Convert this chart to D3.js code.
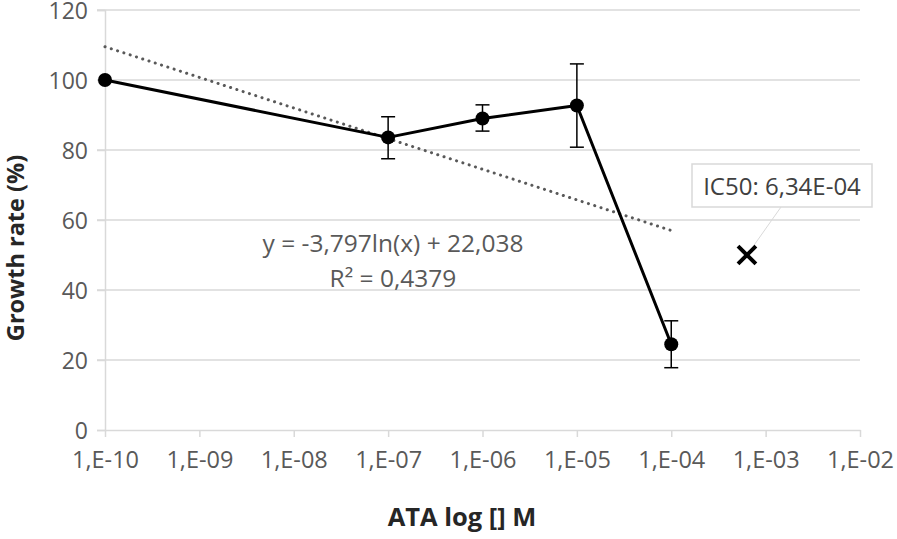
<!DOCTYPE html>
<html><head><meta charset="utf-8">
<script src="https://cdn.jsdelivr.net/npm/d3@7"></script>
<style>body{margin:0;background:#fff}svg{display:block}</style>
</head><body>
<svg id="c" width="897" height="539"></svg>
<script>
const concentrations = [1e-10, 1e-7, 1e-6, 1e-5, 1e-4];
const growthRate = [100, 83.6, 89.0, 92.7, 24.5];
const errUpper = [null, 89.5, 92.9, 104.6, 31.2];
const errLower = [null, 77.5, 85.4, 80.8, 17.8];
const trendX = [1e-10, 1e-4];
const trendY = [109.5, 57.0];
const ic50X = [6.34e-4];
const ic50Y = [50];
const xTickValues = [1e-10,1e-9,1e-8,1e-7,1e-6,1e-5,1e-4,1e-3,1e-2];
const xTickLabels = ["1,E-10","1,E-09","1,E-08","1,E-07","1,E-06","1,E-05","1,E-04","1,E-03","1,E-02"];
const yTickValues = [0,20,40,60,80,100,120];
const eqLines = ["y = -3,797ln(x) + 22,038", "R² = 0,4379"];
const ic50Label = "IC50: 6,34E-04";

const svg = d3.select("#c");
const font = "'Open Sans', 'Noto Sans', sans-serif";
const x = d3.scaleLog().domain([1e-10, 1e-2]).range([105, 860]);
const y = d3.scaleLinear().domain([0, 120]).range([430, 10]);
const grid = "#d9d9d9", txt = "#595959";

// gridlines
svg.append("g").selectAll("line").data(yTickValues.filter(v=>v>0)).join("line")
  .attr("x1", 97).attr("x2", 860).attr("y1", d=>y(d)).attr("y2", d=>y(d))
  .attr("stroke", grid).attr("stroke-width", 1.5);

// y axis
const yAxis = svg.append("g").attr("transform","translate(105,0)")
  .call(d3.axisLeft(y).tickValues(yTickValues).tickSize(8).tickPadding(9));
yAxis.select(".domain").attr("stroke", grid).attr("stroke-width",1.5);
yAxis.selectAll(".tick line").attr("stroke", grid).attr("stroke-width",1.5);
yAxis.selectAll(".tick text").attr("fill", txt).attr("font-size", 23).attr("font-family", font).attr("dy","0.36em");

// x axis
const xAxis = svg.append("g").attr("transform","translate(0,430)")
  .call(d3.axisBottom(x).tickValues(xTickValues).tickFormat((d,i)=>xTickLabels[i]).tickSize(7).tickPadding(23).tickSizeOuter(0));
xAxis.select(".domain").attr("stroke", grid).attr("stroke-width",1.5);
xAxis.selectAll(".tick line").attr("stroke", grid).attr("stroke-width",1.5);
xAxis.selectAll(".tick text").attr("fill", txt).attr("font-size", 23.5).attr("font-family", font).attr("dy","0.36em");

// trendline
svg.append("path").datum(trendX.map((d,i)=>[d,trendY[i]]))
  .attr("d", d3.line().x(d=>x(d[0])).y(d=>y(d[1])))
  .attr("fill","none").attr("stroke","#595959").attr("stroke-width",3)
  .attr("stroke-dasharray","0.1 6.5").attr("stroke-linecap","round");

// error bars
const eb = concentrations.map((c,i)=>({c, hi: errUpper[i], lo: errLower[i]})).filter(d=>d.hi!==null);
const ebg = svg.append("g").attr("stroke","#000").attr("stroke-width",1.5);
ebg.selectAll("line.v").data(eb).join("line").attr("class","v")
  .attr("x1",d=>x(d.c)).attr("x2",d=>x(d.c)).attr("y1",d=>y(d.hi)).attr("y2",d=>y(d.lo));
ebg.selectAll("line.t").data(eb).join("line").attr("class","t")
  .attr("x1",d=>x(d.c)-7).attr("x2",d=>x(d.c)+7).attr("y1",d=>y(d.hi)).attr("y2",d=>y(d.hi));
ebg.selectAll("line.b").data(eb).join("line").attr("class","b")
  .attr("x1",d=>x(d.c)-7).attr("x2",d=>x(d.c)+7).attr("y1",d=>y(d.lo)).attr("y2",d=>y(d.lo));

// data line
svg.append("path").datum(concentrations.map((c,i)=>[c,growthRate[i]]))
  .attr("d", d3.line().x(d=>x(d[0])).y(d=>y(d[1])))
  .attr("fill","none").attr("stroke","#000").attr("stroke-width",3).attr("stroke-linejoin","round");
svg.append("g").selectAll("circle").data(concentrations.map((c,i)=>[c,growthRate[i]])).join("circle")
  .attr("cx",d=>x(d[0])).attr("cy",d=>y(d[1])).attr("r",7).attr("fill","#000");

// equation text
svg.append("g").selectAll("text").data(eqLines).join("text")
  .attr("x", 393).attr("y",(d,i)=>252+i*35).attr("text-anchor","middle")
  .attr("fill", txt).attr("font-size",24.5).attr("font-family",font).text(d=>d);

// IC50 marker + label
const mx = x(ic50X[0]), my = y(ic50Y[0]);
svg.append("line").attr("x1", mx+3).attr("y1", my-4).attr("x2", 781).attr("y2", 207)
  .attr("stroke","#d9d9d9").attr("stroke-width",1);
svg.append("path").attr("d", d3.symbol(d3.symbolX, 210)()).attr("transform",`translate(${mx},${my})`)
  .attr("fill","none").attr("stroke","#000").attr("stroke-width",4);
svg.append("rect").attr("x",692).attr("y",164).attr("width",180).attr("height",43)
  .attr("fill","#fff").attr("stroke","#d9d9d9").attr("stroke-width",1.5);
svg.append("text").attr("x",782).attr("y",195).attr("text-anchor","middle")
  .attr("fill","#404040").attr("font-size",24).attr("font-family",font).text(ic50Label);

// axis titles
svg.append("text").attr("transform","translate(24,248) rotate(-90)").attr("text-anchor","middle")
  .attr("font-weight","bold").attr("font-size",23.5).attr("fill","#262626").attr("font-family",font).text("Growth rate (%)");
svg.append("text").attr("x",462).attr("y",526).attr("text-anchor","middle")
  .attr("font-weight","bold").attr("font-size",25.5).attr("fill","#262626").attr("font-family",font).text("ATA log [] M");
</script>
</body></html>
